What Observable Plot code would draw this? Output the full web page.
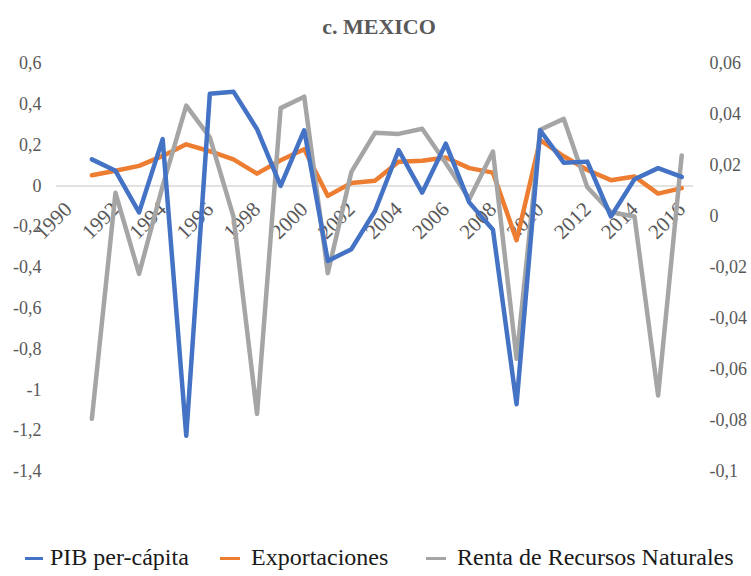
<!DOCTYPE html>
<html><head><meta charset="utf-8">
<script src="https://cdn.jsdelivr.net/npm/d3@7"></script>
<script src="https://cdn.jsdelivr.net/npm/@observablehq/plot@0.6"></script>
<style>
body{margin:0;background:#fff;}
#wrap{position:relative;width:751px;height:576px;overflow:hidden;}
#legend{position:absolute;left:0;top:530px;width:751px;height:46px;}
.sw{position:absolute;height:3px;top:27px;}
.lt{position:absolute;top:13px;font-size:24px;line-height:28px;color:#1a1a1a;white-space:nowrap;}
</style></head><body style="font-family:'Liberation Serif',serif">
<div id="wrap"><div id="chart"></div><div id="legend"></div></div>
<script>
const title = "c. MEXICO";
const years = [1991,1992,1993,1994,1995,1996,1997,1998,1999,2000,2001,2002,2003,2004,2005,2006,2007,2008,2009,2010,2011,2012,2013,2014,2015,2016];
const pib = [0.13,0.074,-0.13,0.229,-1.225,0.452,0.462,0.278,0.0,0.273,-0.368,-0.31,-0.123,0.175,-0.033,0.207,-0.082,-0.215,-1.07,0.273,0.114,0.119,-0.15,0.033,0.087,0.044];
const exportaciones = [0.052,0.074,0.098,0.147,0.204,0.17,0.13,0.06,0.126,0.18,-0.049,0.014,0.025,0.118,0.123,0.139,0.087,0.065,-0.266,0.225,0.145,0.078,0.028,0.046,-0.038,-0.011];
// Renta de Recursos Naturales, secondary (right) axis
const renta = [-0.0793,0.0093,-0.0225,0.012,0.0435,0.031,0.0,-0.0774,0.0425,0.047,-0.0222,0.0175,0.0328,0.0324,0.0344,0.021,0.0069,0.0255,-0.0558,0.034,0.0383,0.0115,0.0017,0.0,-0.0702,0.0239];
const leftTicks = [0.6,0.4,0.2,0,-0.2,-0.4,-0.6,-0.8,-1,-1.2,-1.4];
const rightTicks = [0.06,0.04,0.02,0,-0.02,-0.04,-0.06,-0.08,-0.1];
const xLabels = [1990,1992,1994,1996,1998,2000,2002,2004,2006,2008,2010,2012,2014,2016];
const seriesNames = ["PIB per-cápita","Exportaciones","Renta de Recursos Naturales"];
const colors = ["#4472C4","#ED7D31","#A5A5A5"];
const FONT = "'Liberation Serif', serif";

// map secondary axis values onto the primary axis: 0.06 -> 0.6, -0.1 -> -1.4
const toLeft = d3.scaleLinear().domain([-0.1,0.06]).range([-1.4,0.6]);
const fmt = v => { const r = Math.round(v*100)/100; return String(r === 0 ? 0 : r).replace(".", ","); };

const rows = (vals, name, f = v => v) => years.map((y,i) => ({year:y, value:f(vals[i]), series:name}));
const dPib = rows(pib, seriesNames[0]);
const dExp = rows(exportaciones, seriesNames[1]);
const dRen = rows(renta, seriesNames[2], v => toLeft(v));

const lineOpts = c => ({x:"year", y:"value", stroke:c, strokeWidth:4.5, strokeLinejoin:"round", strokeLinecap:"round"});

const chart = Plot.plot({
  width:751, height:530,
  marginLeft:56, marginRight:58, marginTop:63, marginBottom:59,
  style:`font-family:${FONT};font-size:18px;color:#595959;background:#fff;`,
  x:{type:"linear", domain:[1989.5,2016.5], axis:null},
  y:{domain:[-1.4,0.6], axis:null},
  marks:[
    Plot.ruleY([0], {stroke:"#d9d9d9", strokeWidth:1.5}),
    Plot.axisY(leftTicks, {anchor:"left", tickSize:0, tickPadding:15, tickFormat:fmt, label:null, fontSize:18, fill:"#595959"}),
    Plot.axisY(rightTicks.map(v => toLeft(v)), {anchor:"right", tickSize:0, tickPadding:16, label:null, fontSize:18, fill:"#595959",
      tickFormat: d => fmt(toLeft.invert(d))}),
    Plot.text(xLabels, {x:d => d, y:() => 0, text:d => String(d), rotate:-45, textAnchor:"end", dx:0, dy:20, fontSize:21, fill:"#595959"}),
    Plot.line(dExp, lineOpts(colors[1])),
    Plot.line(dRen, lineOpts(colors[2])),
    Plot.line(dPib, lineOpts(colors[0])),
    Plot.text([title], {frameAnchor:"top", dx:4, dy:-45, text:d => d, fontWeight:"bold", fontSize:22, fill:"#595959"})
  ]
});
document.getElementById("chart").appendChild(chart);

const legend = document.getElementById("legend");
const swX = [[25,43,50],[220,240,251],[426,446,457]];
seriesNames.forEach((name,i) => {
  const sw = document.createElement("div");
  sw.className = "sw";
  sw.style.left = swX[i][0] + "px";
  sw.style.width = (swX[i][1]-swX[i][0]) + "px";
  sw.style.background = colors[i];
  legend.appendChild(sw);
  const t = document.createElement("div");
  t.className = "lt";
  t.style.left = swX[i][2] + "px";
  t.textContent = name;
  legend.appendChild(t);
});
</script>
</body></html>
